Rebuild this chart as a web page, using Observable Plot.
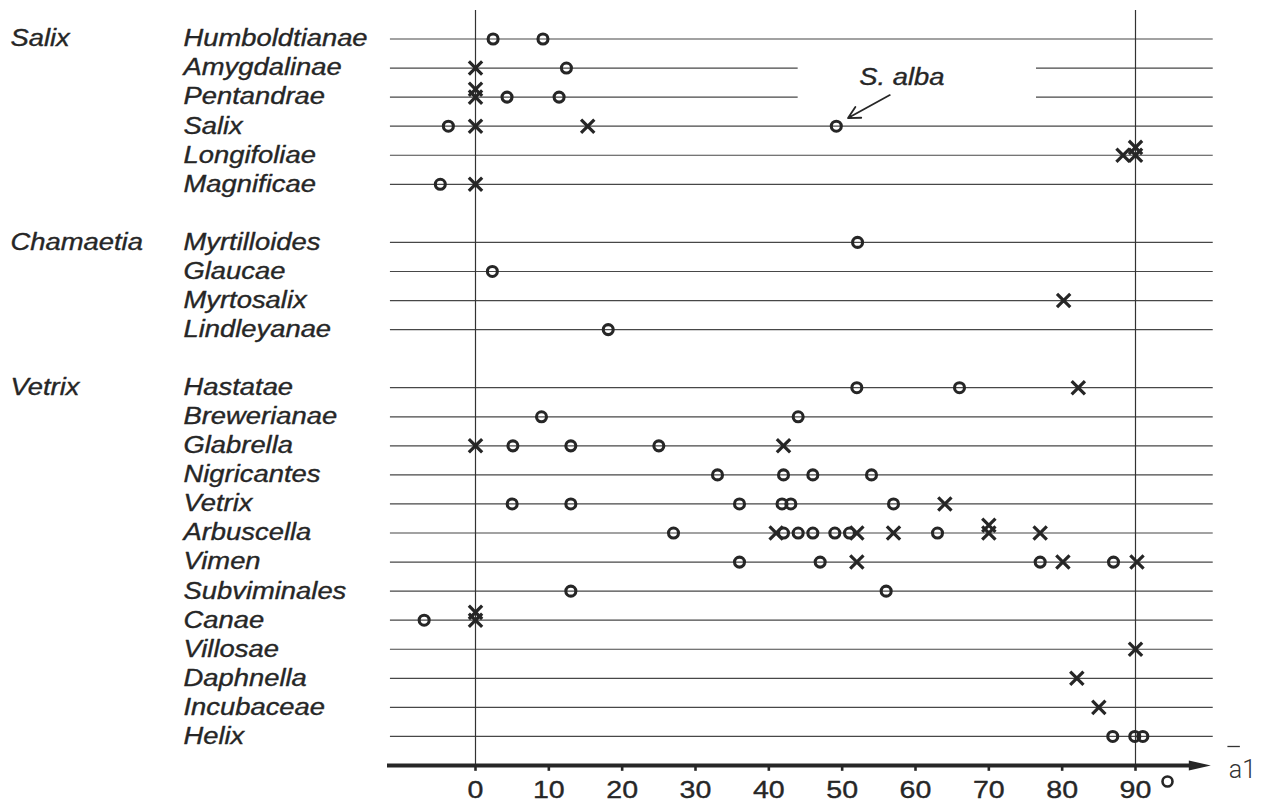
<!DOCTYPE html>
<html><head><meta charset="utf-8">
<script src="https://cdn.jsdelivr.net/npm/d3@7"></script>
<script src="https://cdn.jsdelivr.net/npm/@observablehq/plot@0.6"></script>
<style>body{margin:0;background:#fff} #chart svg{display:block}</style>
</head><body><div id="chart"></div>
<script>
const groups = ["Salix", "Chamaetia", "Vetrix"];
const groupSizes = [6, 4, 13];
const sections = ["Humboldtianae","Amygdalinae","Pentandrae","Salix","Longifoliae","Magnificae",
  "Myrtilloides","Glaucae","Myrtosalix","Lindleyanae",
  "Hastatae","Brewerianae","Glabrella","Nigricantes","Vetrix","Arbuscella","Vimen","Subviminales",
  "Canae","Villosae","Daphnella","Incubaceae","Helix"];
const circleValues = [[2.4, 9.2], [12.4], [4.3, 11.4], [-3.7, 49.2], [], [-4.8],
  [52.1], [2.3], [], [18.1],
  [52.0, 66.0], [9.0, 44.0], [5.1, 13.0, 25.0], [33.0, 42.0, 46.0, 54.0], [5.0, 13.0, 36.0, 41.8, 43.0, 57.0],
  [27.0, 42.0, 44.0, 46.0, 49.0, 51.0, 63.0], [36.0, 47.0, 77.0, 87.0], [13.0, 56.0],
  [-7.0], [], [], [], [86.9, 89.9, 91.0]];
const crossValues = [[], [0], [0, 0], [0, 15.3], [88.3, 90, 90], [0],
  [], [], [80.2], [],
  [82.2], [], [0, 42.0], [], [64.0],
  [41.0, 52.0, 57.0, 70.0, 70.0, 77.0], [52.0, 80.1, 90.2], [],
  [0, 0], [90], [82.0], [85.0], []];
const tickValues = [0, 10, 20, 30, 40, 50, 60, 70, 80, 90];
const annotation = {label: "S. alba", section: "Salix", value: 49.2};
const axisLabel = "a1";
// row lines interrupted to leave room for the annotation
const gapSections = ["Amygdalinae", "Pentandrae"];
const gapRange = [44.0, 76.5];

// ---- derived layout (slots) ----
const slotOf = [];
const groupRows = [];
{
  let s = 0, i = 0;
  groups.forEach((g, gi) => {
    groupRows.push({name: g, slot: s});
    for (let k = 0; k < groupSizes[gi]; k++) { slotOf[i++] = s++; }
    s++;
  });
}
const axisSlot = slotOf[slotOf.length - 1] + 1;
const rows = sections.map((name, i) => ({name, slot: slotOf[i]}));
const xMin = -11.6, xMax = 100.6;
const rowLines = [];
rows.forEach(r => {
  if (gapSections.includes(r.name)) {
    rowLines.push({slot: r.slot, x1: xMin, x2: gapRange[0]});
    rowLines.push({slot: r.slot, x1: gapRange[1], x2: xMax});
  } else rowLines.push({slot: r.slot, x1: xMin, x2: xMax});
});
function toPoints(valuesArr, type) {
  const out = [];
  valuesArr.forEach((vals, i) => {
    const seen = new Map();
    vals.forEach(v => {
      const k = seen.get(v) || 0; seen.set(v, k + 1);
      out.push({section: sections[i], slot: slotOf[i], value: v, k, type});
    });
  });
  return out;
}
const circles = toPoints(circleValues, "circle");
const crosses = toPoints(crossValues, "cross");
const stackStep = 0.27;
const annSlot = slotOf[sections.indexOf(annotation.section)];

const ink = "#262626";
const lineCol = "#474747";
const font = "'Liberation Sans', Arial, sans-serif";

const arrowHead = {draw(ctx) { ctx.moveTo(2, 0); ctx.lineTo(-20, -5); ctx.lineTo(-20, 5); ctx.closePath(); }};
const labelStyle = {fontSize: 23, fontStyle: "italic", fill: ink, stroke: ink, strokeWidth: 0.35};

const chart = Plot.plot({
  width: 1268, height: 803,
  marginLeft: 0, marginRight: 0, marginTop: 0, marginBottom: 0,
  x: {domain: [0, 90], range: [475, 1135], axis: null},
  y: {domain: [0, axisSlot], range: [38.5, 765], axis: null},
  style: {fontFamily: font, background: "#fff"},
  marks: [
    Plot.ruleY(rowLines, {y: "slot", x1: "x1", x2: "x2", stroke: lineCol, strokeWidth: 1.2}),
    Plot.ruleX([0, 90], {y1: -0.98, y2: axisSlot, stroke: "#333", strokeWidth: 1.2}),
    Plot.ruleY([axisSlot], {x1: -12, x2: 98, stroke: ink, strokeWidth: 3.8}),
    Plot.dot([100], {x: d => d, y: axisSlot, symbol: arrowHead, fill: ink, stroke: "none"}),
    Plot.ruleX(tickValues, {x: d => d, y1: axisSlot, y2: axisSlot + 0.2, stroke: ink, strokeWidth: 2.6}),
    Plot.text(tickValues, {x: d => d, y: axisSlot, dy: 25, text: d => String(d), fontSize: 24,
      fill: ink, stroke: ink, strokeWidth: 0.35}),
    Plot.dot([90], {x: d => d, y: axisSlot, dx: 32, dy: 16, r: 5, stroke: ink, strokeWidth: 2.6, fill: "none"}),
    Plot.text([axisLabel], {x: 100, y: axisSlot, dx: 20, dy: 4, text: d => d, textAnchor: "start",
      fontSize: 25, fontFamily: "Roboto, sans-serif", fontWeight: 300, fill: "#333"}),
    Plot.ruleY([axisSlot], {x1: 102.6, x2: 104.3, dy: -19, stroke: "#333", strokeWidth: 1.3}),
    Plot.dot(circles, {x: "value", y: d => d.slot - d.k * stackStep, r: 5, stroke: ink, strokeWidth: 3.1, fill: "none"}),
    Plot.dot(crosses, {x: "value", y: d => d.slot - d.k * stackStep, symbol: "times", r: 6.1, stroke: ink, strokeWidth: 3.2}),
    Plot.text(rows, {frameAnchor: "left", y: "slot", dx: 183, text: "name", textAnchor: "start", ...labelStyle}),
    Plot.text(groupRows, {frameAnchor: "left", y: "slot", dx: 10, text: "name", textAnchor: "start", ...labelStyle}),
    Plot.text([annotation], {x: "value", y: annSlot, dx: 23, dy: -49, text: "label", textAnchor: "start", ...labelStyle}),
    Plot.arrow([annotation], {x1: d => d.value + 7.3, y1: annSlot - 1.07, x2: d => d.value + 1.6, y2: annSlot - 0.28,
      stroke: ink, strokeWidth: 1.8, headLength: 11, headAngle: 55})
  ]
});
document.getElementById("chart").appendChild(chart);
chart.querySelectorAll("text").forEach(t => {
  if (t.textContent === axisLabel) return;
  const w = t.getComputedTextLength();
  t.setAttribute("textLength", (w * 1.19).toFixed(1));
  t.setAttribute("lengthAdjust", "spacingAndGlyphs");
});
</script></body></html>
